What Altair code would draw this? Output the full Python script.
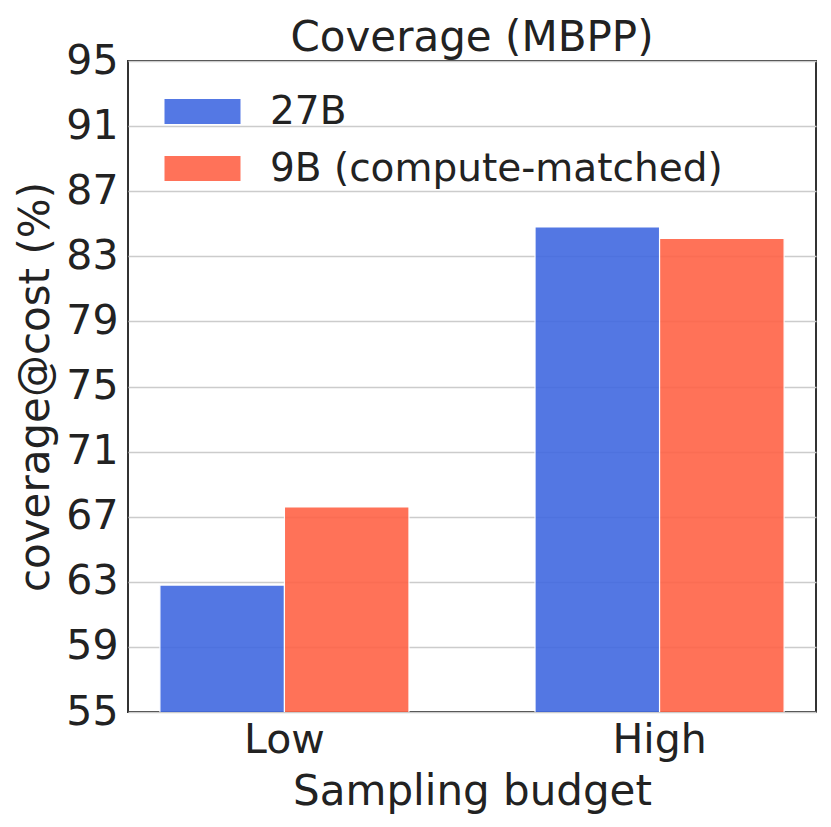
import altair as alt
import pandas as pd

budgets = ["Low", "High"]
models = ["27B", "9B (compute-matched)"]
coverage_27b = [62.8, 84.8]
coverage_9b = [67.6, 84.1]
y_ticks = [55, 59, 63, 67, 71, 75, 79, 83, 87, 91, 95]

rows = []
for i, b in enumerate(budgets):
    rows.append({"budget": b, "model": models[0], "value": coverage_27b[i]})
    rows.append({"budget": b, "model": models[1], "value": coverage_9b[i]})
df = pd.DataFrame(rows)

FONT = "DejaVu Sans"

chart = alt.Chart(df).mark_bar(
    opacity=0.9, stroke="white", strokeWidth=1.2, clip=True
).encode(
    x=alt.X("budget:N", sort=budgets, title="Sampling budget",
            scale=alt.Scale(paddingInner=0.336, paddingOuter=0.085),
            axis=alt.Axis(labelAngle=0, labelFontSize=41, titleFontSize=42,
                          labelPadding=8, titlePadding=11, ticks=False,
                          domain=False, grid=False, labelColor="#222",
                          titleColor="#222", titleFontWeight="normal")),
    xOffset=alt.XOffset("model:N", sort=models,
                        scale=alt.Scale(paddingInner=0, paddingOuter=0)),
    y=alt.Y("value:Q", title="coverage@cost (%)",
            scale=alt.Scale(domain=[55, 95], nice=False, zero=False),
            axis=alt.Axis(values=y_ticks, labelFontSize=41, titleFontSize=42,
                          labelPadding=10, titlePadding=8, ticks=False,
                          domain=False, gridColor="#cccccc", gridWidth=1.5,
                          labelColor="#222", titleColor="#222",
                          titleFontWeight="normal")),
    color=alt.Color("model:N", sort=models,
                    scale=alt.Scale(domain=models, range=["#4169E1", "#FF6347"]),
                    legend=alt.Legend(
                        title=None, orient="none", legendX=55, legendY=31,
                        symbolType="M-2,-0.66H2V0.66H-2Z", symbolSize=1444,
                        symbolOpacity=0.9, symbolStrokeWidth=0,
                        labelFontSize=39, labelOffset=48, rowPadding=17,
                        labelLimit=800, labelColor="#222", padding=0)),
).properties(
    width=688, height=651,
    title=alt.TitleParams("Coverage (MBPP)", fontSize=42, fontWeight="normal",
                          color="#222", offset=-20),
    padding={"left": 6, "top": 9, "right": 5, "bottom": 5},
).configure(
    font=FONT,
).configure_view(
    stroke="#333", strokeWidth=2,
)

chart.save("out.html", embed_options={"renderer": "svg", "actions": False})
